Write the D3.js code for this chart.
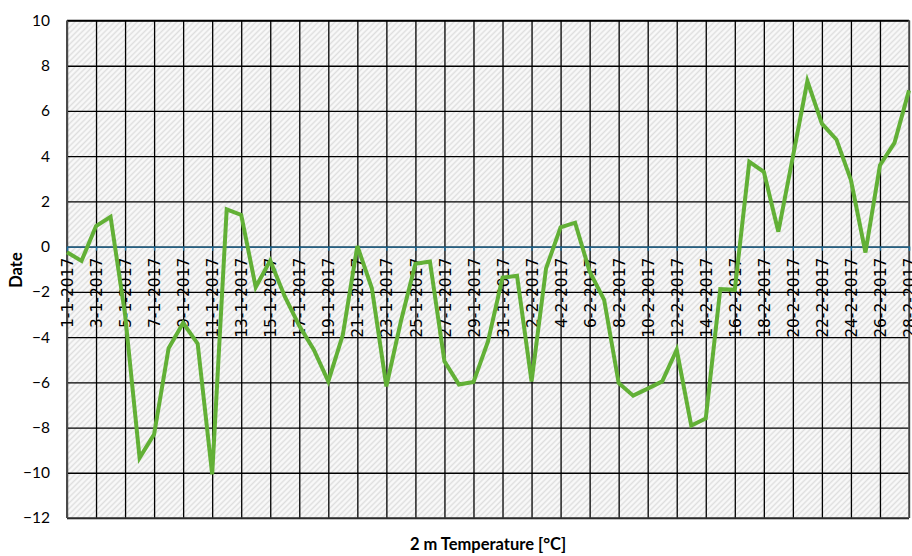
<!DOCTYPE html>
<html>
<head>
<meta charset="utf-8">
<script src="https://cdn.jsdelivr.net/npm/d3@7/dist/d3.min.js"></script>
<style>
  html, body { margin: 0; padding: 0; background: #ffffff; }
  svg { display: block; }
</style>
</head>
<body>
<script>
// Daily 2 m temperature, January–February 2017
const dates = [];
const monthDays = [[1, 31], [2, 28]];
monthDays.forEach(([m, n]) => { for (let d = 1; d <= n; d++) dates.push(d + "-" + m + "-2017"); });

const temperatures = [
  -0.25, -0.63, 0.91, 1.32, -3.0, -9.34, -8.3, -4.49, -3.38, -4.29,
  -10.07, 1.65, 1.4, -1.79, -0.62, -2.2, -3.5, -4.56, -5.96, -3.9,
  0.03, -1.84, -6.18, -3.3, -0.76, -0.66, -5.07, -6.1, -5.99, -4.19,
  -1.37, -1.29, -5.96, -0.96, 0.85, 1.06, -1.1, -2.35, -6.03, -6.59,
  -6.28, -5.96, -4.56, -7.91, -7.6, -1.88, -1.91, 3.75, 3.31, 0.66,
  3.97, 7.32, 5.44, 4.74, 2.94, -0.26, 3.6, 4.59, 6.91
];

const yTicks = [-12, -10, -8, -6, -4, -2, 0, 2, 4, 6, 8, 10];
const dateTicks = dates.filter((d, i) => i % 2 === 0);

const W = 912, H = 556;
const plot = { left: 67, right: 909, top: 20.5, bottom: 518 };

const svg = d3.select("body").append("svg").attr("width", W).attr("height", H);

// diagonal hatch fill for the plot area
const defs = svg.append("defs");
const pat = defs.append("pattern")
  .attr("id", "hatch").attr("patternUnits", "userSpaceOnUse")
  .attr("width", 4).attr("height", 4)
  .attr("patternTransform", "rotate(45)");
pat.append("rect").attr("width", 4).attr("height", 4).attr("fill", "#f2f2f2");
pat.append("rect").attr("x", 0).attr("width", 1).attr("height", 4).attr("fill", "#dedede");
pat.append("rect").attr("x", 2).attr("width", 1).attr("height", 4).attr("fill", "#fbfbfb");

const x = d3.scalePoint().domain(dates).range([plot.left, plot.right]).padding(0);
const y = d3.scaleLinear().domain([-12, 10]).range([plot.bottom, plot.top]);

svg.append("rect")
  .attr("x", plot.left).attr("y", plot.top)
  .attr("width", plot.right - plot.left).attr("height", plot.bottom - plot.top)
  .attr("fill", "url(#hatch)");

// horizontal gridlines
svg.append("g")
  .attr("transform", `translate(${plot.left},0)`)
  .call(d3.axisLeft(y).tickValues(yTicks).tickSize(-(plot.right - plot.left)).tickFormat(""))
  .call(g => g.select(".domain").remove())
  .call(g => g.selectAll("line").attr("stroke", "#000").attr("stroke-width", 1.3));

// vertical gridlines every second day
svg.append("g")
  .attr("transform", `translate(0,${plot.bottom})`)
  .call(d3.axisBottom(x).tickValues(dateTicks).tickSize(-(plot.bottom - plot.top)).tickFormat(""))
  .call(g => g.select(".domain").remove())
  .call(g => g.selectAll("line").attr("stroke", "#000").attr("stroke-width", 1.3));

// plot frame
svg.append("line").attr("x1", plot.left).attr("x2", plot.right).attr("y1", plot.top).attr("y2", plot.top)
  .attr("stroke", "#000").attr("stroke-width", 1.3);
svg.append("line").attr("x1", plot.left).attr("x2", plot.right).attr("y1", plot.bottom).attr("y2", plot.bottom)
  .attr("stroke", "#3a3a3a").attr("stroke-width", 1.6);
svg.append("line").attr("x1", plot.left).attr("x2", plot.left).attr("y1", plot.top).attr("y2", plot.bottom)
  .attr("stroke", "#4a4a4a").attr("stroke-width", 2);
svg.append("line").attr("x1", plot.right).attr("x2", plot.right).attr("y1", plot.top).attr("y2", plot.bottom)
  .attr("stroke", "#555").attr("stroke-width", 1.6);

// y-axis labels
svg.append("g")
  .attr("transform", `translate(${plot.left},0)`)
  .call(d3.axisLeft(y).tickValues(yTicks).tickSize(0).tickPadding(17))
  .call(g => g.select(".domain").remove())
  .call(g => g.selectAll("text")
    .attr("font-family", "Lato, 'Open Sans', sans-serif")
    .attr("font-size", 15.5).attr("fill", "#000"));

// category axis crossing at zero
const zeroAxis = svg.append("g")
  .attr("transform", `translate(0,${y(0)})`)
  .call(d3.axisBottom(x).tickValues(dateTicks).tickSize(4).tickPadding(0));
zeroAxis.select(".domain").attr("stroke", "#1f6e9c").attr("stroke-width", 1.3);
zeroAxis.selectAll("line").attr("stroke", "#1f6e9c").attr("stroke-width", 1.3);
zeroAxis.selectAll("text")
  .attr("font-family", "'DejaVu Sans', sans-serif")
  .attr("font-size", 15.5).attr("fill", "#000")
  .attr("text-anchor", "end")
  .attr("transform", "rotate(-90)")
  .attr("x", -11).attr("y", 0).attr("dy", "0.36em");

// temperature line
const line = d3.line()
  .x((d, i) => x(dates[i]))
  .y(d => y(d));

const clip = defs.append("clipPath").attr("id", "clip");
clip.append("rect").attr("x", plot.left - 2).attr("y", 0).attr("width", plot.right - plot.left + 4).attr("height", H);

svg.append("path")
  .datum(temperatures)
  .attr("clip-path", "url(#clip)")
  .attr("d", line)
  .attr("fill", "none")
  .attr("stroke", "#62b036")
  .attr("stroke-width", 4)
  .attr("stroke-linejoin", "miter")
  .attr("stroke-linecap", "butt");

// axis titles
svg.append("text")
  .attr("transform", `translate(22,270) rotate(-90)`)
  .attr("text-anchor", "middle")
  .attr("font-family", "Lato, 'Open Sans', sans-serif")
  .attr("font-weight", "bold").attr("font-size", 16.5)
  .text("Date");

svg.append("text")
  .attr("x", (plot.left + plot.right) / 2).attr("y", 550)
  .attr("text-anchor", "middle")
  .attr("font-family", "Lato, 'Open Sans', sans-serif")
  .attr("font-weight", "bold").attr("font-size", 16.5)
  .text("2 m Temperature [°C]");
</script>
</body>
</html>
